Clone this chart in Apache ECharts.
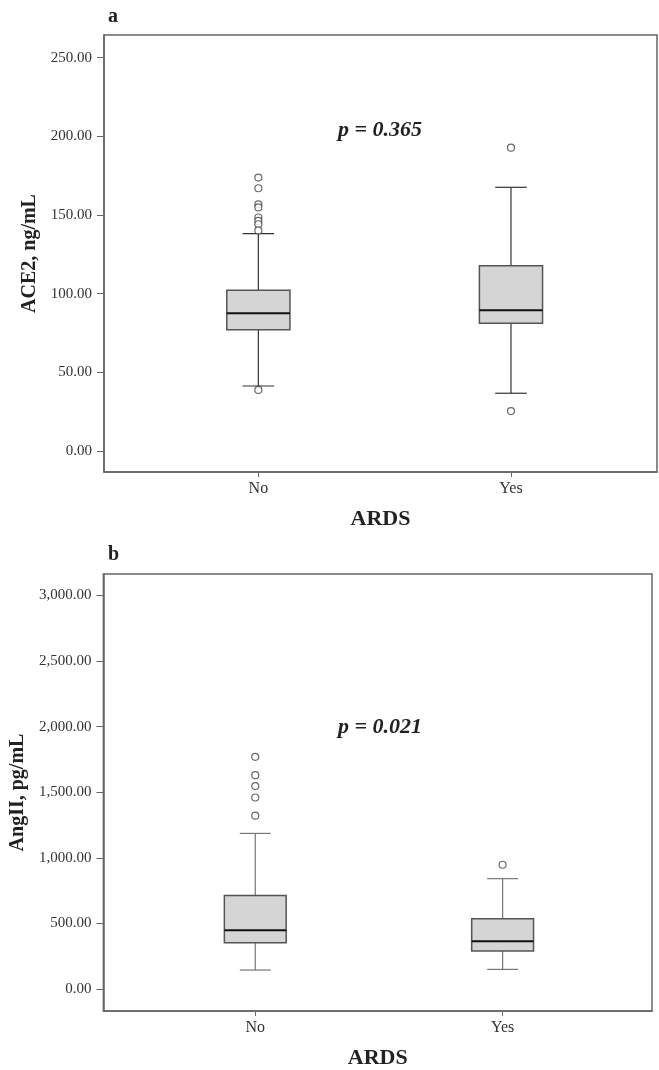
<!DOCTYPE html>
<html lang="en" style="height: 100%">
<head>
  <meta charset="utf-8">
</head>
<body style="height: 100%; margin: 0; background: #fff">
  <div id="container" style="width: 659px; height: 1070px"></div>

  <script type="text/javascript" src="https://cdn.jsdelivr.net/npm/echarts@6/dist/echarts.min.js"></script>

  <script type="text/javascript">
    // groups on the x axis (placed at 1 and 2)
    var categories = ['No', 'Yes'];
    var catPos = [1, 2];

    // panel a: ACE2, ng/mL  -> [min whisker, Q1, median, Q3, max whisker]
    var ace2Box = [
      [41.3, 77.0, 87.5, 102.1, 138.2],
      [36.7, 81.2, 89.4, 117.8, 167.6]
    ];
    var ace2Outliers = [
      [173.8, 167.0, 156.8, 154.8, 148.4, 146.2, 144.1, 140.2, 38.8],
      [192.8, 25.4]
    ];
    var ace2Ticks = [0, 50, 100, 150, 200, 250];

    // panel b: AngII, pg/mL
    var angBox = [
      [144, 353, 447, 713, 1186],
      [149, 289, 363, 536, 841]
    ];
    var angOutliers = [
      [1770, 1630, 1547, 1460, 1321],
      [947]
    ];
    var angTicks = [0, 500, 1000, 1500, 2000, 2500, 3000];

    var serif = '"Liberation Serif", "DejaVu Serif", serif';
    var frameColor = '#666';

    function boxData(box) {
      return box.map(function (b, i) { return [catPos[i]].concat(b); });
    }
    function outlierData(outs) {
      var res = [];
      outs.forEach(function (list, i) {
        list.forEach(function (v) { res.push([catPos[i], v]); });
      });
      return res;
    }
    function fmtNum(v) {
      return v.toLocaleString('en-US', { minimumFractionDigits: 2, maximumFractionDigits: 2 });
    }

    function makeRender(whiskerColor) {
      return function (params, api) {
        var x = api.value(0);
        var lo = api.coord([x, api.value(1)]);
        var q1 = api.coord([x, api.value(2)]);
        var med = api.coord([x, api.value(3)]);
        var q3 = api.coord([x, api.value(4)]);
        var hi = api.coord([x, api.value(5)]);
        var bw = api.size([0.25, 0])[0];
        var cw = api.size([0.125, 0])[0];
        var cx = lo[0];
        var ws = { stroke: whiskerColor, lineWidth: 1.2 };
        return {
          type: 'group',
          children: [
            { type: 'line', shape: { x1: cx, y1: hi[1], x2: cx, y2: q3[1] }, style: ws },
            { type: 'line', shape: { x1: cx, y1: q1[1], x2: cx, y2: lo[1] }, style: ws },
            { type: 'line', shape: { x1: cx - cw / 2, y1: hi[1], x2: cx + cw / 2, y2: hi[1] }, style: ws },
            { type: 'line', shape: { x1: cx - cw / 2, y1: lo[1], x2: cx + cw / 2, y2: lo[1] }, style: ws },
            {
              type: 'rect',
              shape: { x: cx - bw / 2, y: q3[1], width: bw, height: q1[1] - q3[1] },
              style: { fill: '#d5d5d5', stroke: '#555', lineWidth: 1.5 }
            },
            { type: 'line', shape: { x1: cx - bw / 2, y1: med[1], x2: cx + bw / 2, y2: med[1] }, style: { stroke: '#111', lineWidth: 2 } }
          ]
        };
      };
    }

    function xAxisFor(gridIndex, min, max) {
      return {
        type: 'value', gridIndex: gridIndex, min: min, max: max,
        name: 'ARDS', nameLocation: 'middle', nameGap: 36,
        nameTextStyle: { fontFamily: serif, fontWeight: 'bold', fontSize: 22, color: '#222' },
        axisLine: { show: true, onZero: false, lineStyle: { color: frameColor, width: 1.5 } },
        axisTick: { show: true, customValues: catPos, length: 5, lineStyle: { color: frameColor } },
        axisLabel: {
          customValues: catPos, margin: 9, fontFamily: serif, fontSize: 16, color: '#333',
          formatter: function (v) { return categories[catPos.indexOf(v)] || ''; }
        },
        splitLine: { show: false }
      };
    }
    function yAxisFor(gridIndex, min, max, ticks, name, gap) {
      return {
        type: 'value', gridIndex: gridIndex, min: min, max: max,
        name: name, nameLocation: 'middle', nameGap: gap, nameRotate: 90,
        nameTextStyle: { fontFamily: serif, fontWeight: 'bold', fontSize: 20, color: '#222' },
        axisLine: { show: true, onZero: false, lineStyle: { color: frameColor, width: 1.5 } },
        axisTick: { show: true, customValues: ticks, length: 7, lineStyle: { color: frameColor } },
        axisLabel: {
          customValues: ticks, margin: 12, fontFamily: serif, fontSize: 15, color: '#333',
          formatter: fmtNum
        },
        splitLine: { show: false }
      };
    }

    var dom = document.getElementById('container');
    var myChart = echarts.init(dom, null, { renderer: 'canvas' });

    var titleStyle = { fontFamily: serif, fontWeight: 'bold', fontSize: 20, color: '#222' };
    var pStyle = { fontFamily: serif, fontWeight: 'bold', fontStyle: 'italic', fontSize: 22, color: '#222' };

    var option = {
      backgroundColor: '#fff',
      animation: false,
      title: [
        { text: 'a', left: 108, top: 7, padding: 0, textStyle: titleStyle },
        { text: 'p = 0.365', left: 338, top: 119, padding: 0, textStyle: pStyle },
        { text: 'b', left: 108, top: 545, padding: 0, textStyle: titleStyle },
        { text: 'p = 0.021', left: 338, top: 716, padding: 0, textStyle: pStyle }
      ],
      grid: [
        { left: 104, top: 35, right: 2, height: 437, show: true, borderColor: frameColor, borderWidth: 1.5, containLabel: false },
        { left: 103, top: 574, right: 7, height: 437, show: true, borderColor: frameColor, borderWidth: 1.5, containLabel: false }
      ],
      xAxis: [
        xAxisFor(0, 0.389, 2.578),
        xAxisFor(1, 0.386, 2.604)
      ],
      yAxis: [
        yAxisFor(0, -13.35, 264.4, ace2Ticks, 'ACE2, ng/mL', 64),
        yAxisFor(1, -168.3, 3164.3, angTicks, 'AngII, pg/mL', 73)
      ],
      series: [
        {
          type: 'custom', xAxisIndex: 0, yAxisIndex: 0,
          renderItem: makeRender('#333'),
          encode: { x: 0, y: [1, 2, 3, 4, 5] },
          data: boxData(ace2Box)
        },
        {
          type: 'scatter', xAxisIndex: 0, yAxisIndex: 0,
          symbol: 'circle', symbolSize: 7,
          itemStyle: { color: '#fff', borderColor: '#444', borderWidth: 1.2 },
          data: outlierData(ace2Outliers)
        },
        {
          type: 'custom', xAxisIndex: 1, yAxisIndex: 1,
          renderItem: makeRender('#777'),
          encode: { x: 0, y: [1, 2, 3, 4, 5] },
          data: boxData(angBox)
        },
        {
          type: 'scatter', xAxisIndex: 1, yAxisIndex: 1,
          symbol: 'circle', symbolSize: 7,
          itemStyle: { color: '#fff', borderColor: '#444', borderWidth: 1.2 },
          data: outlierData(angOutliers)
        }
      ]
    };

    myChart.setOption(option);
    window.addEventListener('resize', myChart.resize);
  </script>
</body>
</html>
